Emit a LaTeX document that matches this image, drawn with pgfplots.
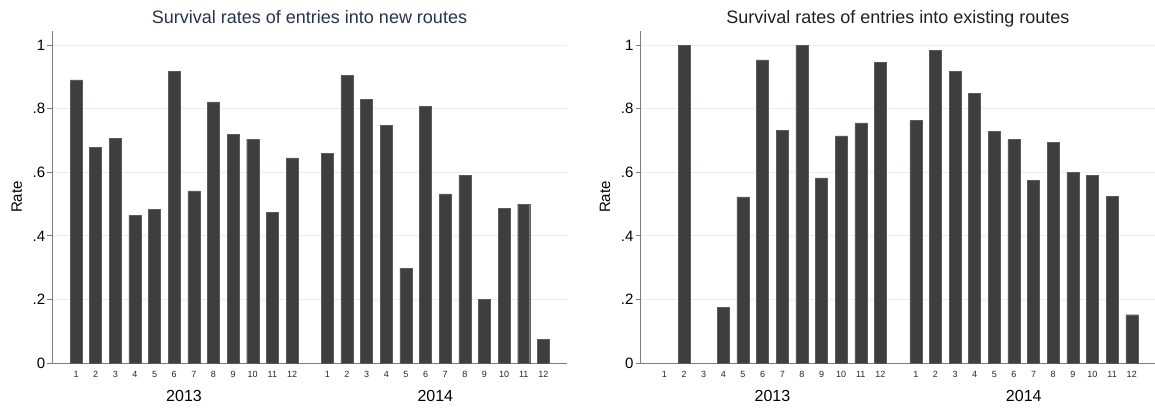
\documentclass[border=0pt]{standalone}
\usepackage{pgfplots}
\pgfplotsset{compat=1.18}
\usepackage{fontspec}
\setmainfont{Liberation Sans}

\definecolor{barfill}{RGB}{62,62,62}
\definecolor{axisgray}{RGB}{125,125,125}
\definecolor{gridc}{RGB}{232,239,241}
\definecolor{navytitle}{RGB}{38,50,86}
\definecolor{darktitle}{RGB}{32,32,32}

\tikzset{yearlabel/.style={font=\fontsize{16}{16}\selectfont, anchor=center, yshift=-33pt}}

\pgfplotsset{
  survival/.style={
    scale only axis, width=514.4pt, height=332pt,
    anchor=south west, clip=false,
    xmin=-0.209, xmax=25.99, ymin=0, ymax=1.045,
    axis x line*=bottom, axis y line*=left,
    axis line style={axisgray, line width=0.9pt, -},
    ybar, bar width=12pt,
    xtick={1,2,3,4,5,6,7,8,9,10,11,12,13.8,14.8,15.8,16.8,17.8,18.8,19.8,20.8,21.8,22.8,23.8,24.8},
    xticklabels={1,2,3,4,5,6,7,8,9,10,11,12,1,2,3,4,5,6,7,8,9,10,11,12},
    ytick={0,0.2,0.4,0.6,0.8,1},
    yticklabels={0,.2,.4,.6,.8,1},
    ymajorgrids, grid style={gridc, line width=0.9pt},
    tick align=outside, major tick length=5pt,
    ytick style={axisgray, line width=0.9pt},
    xtick style={draw=none},
    yticklabel style={font=\fontsize{15}{15}\selectfont, text=black, inner sep=2pt},
    xticklabel style={font=\fontsize{9}{9}\selectfont, text=black!85, inner sep=3pt},
    ylabel={Rate},
    ylabel style={font=\fontsize{15}{15}\selectfont, at={([xshift=-35.6pt]axis description cs:0,0.5)}, anchor=center, rotate=0},
    title style={font=\fontsize{18}{18}\selectfont, at={(axis description cs:0.5,1)}, anchor=base, yshift=1.7pt},
  },
}

\begin{document}
\begin{tikzpicture}
\path[use as bounding box] (0,0) rectangle (1155pt,409pt);

% new routes
\begin{axis}[survival, at={(52.3pt,46pt)},
  title={Survival rates of entries into new routes},
  title style={text=navytitle}]
\addplot [fill=barfill, draw=barfill!85!white, line width=0.4pt]
coordinates {
(1,0.891) (2,0.679) (3,0.707) (4,0.465) (5,0.484) (6,0.919)
(7,0.542) (8,0.822) (9,0.720) (10,0.705) (11,0.474) (12,0.646)
(13.8,0.659) (14.8,0.906) (15.8,0.829) (16.8,0.748) (17.8,0.297) (18.8,0.807)
(19.8,0.532) (20.8,0.591) (21.8,0.200) (22.8,0.486) (23.8,0.500) (24.8,0.074)
};
\node[yearlabel] at (axis cs:6.5,0) {2013};
\node[yearlabel] at (axis cs:19.3,0) {2014};
\end{axis}

% existing routes (months 1 and 3 of 2013 are zero)
\begin{axis}[survival, at={(640.7pt,46pt)},
  title={Survival rates of entries into existing routes},
  title style={text=darktitle}]
\addplot [fill=barfill, draw=barfill!85!white, line width=0.4pt]
coordinates {
(2,1.000) (4,0.175) (5,0.523) (6,0.954)
(7,0.732) (8,1.000) (9,0.583) (10,0.715) (11,0.756) (12,0.947)
(13.8,0.763) (14.8,0.985) (15.8,0.918) (16.8,0.849) (17.8,0.730) (18.8,0.705)
(19.8,0.575) (20.8,0.695) (21.8,0.600) (22.8,0.590) (23.8,0.524) (24.8,0.152)
};
\node[yearlabel] at (axis cs:6.5,0) {2013};
\node[yearlabel] at (axis cs:19.3,0) {2014};
\end{axis}
\end{tikzpicture}
\end{document}
